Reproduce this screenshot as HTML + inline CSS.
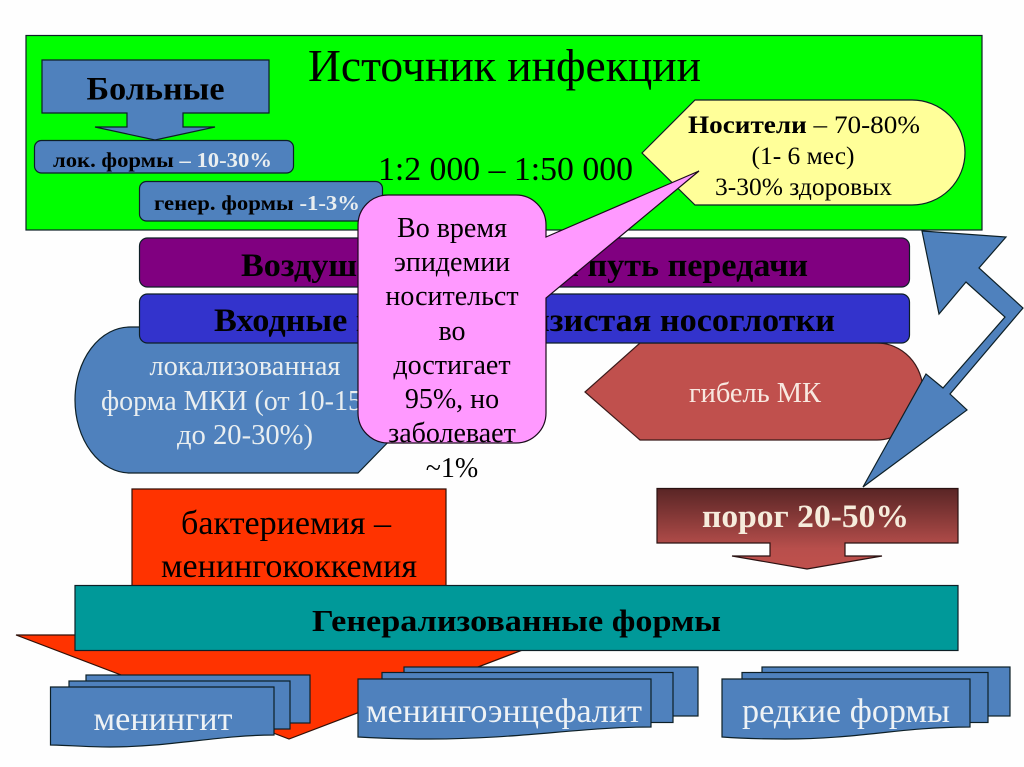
<!DOCTYPE html>
<html>
<head>
<meta charset="utf-8">
<style>
html,body{margin:0;padding:0;background:#fff;width:1024px;height:767px;overflow:hidden}
svg{display:block}
text{font-family:"Liberation Serif","Noto Serif CJK SC",serif}
.b{font-weight:bold}
.s{stroke:#0d1f26;stroke-width:1.2}
</style>
</head>
<body>
<svg width="1024" height="767" viewBox="0 0 1024 767" xmlns="http://www.w3.org/2000/svg">
<defs>
<linearGradient id="g" x1="0" y1="0" x2="0" y2="1">
<stop offset="0" stop-color="#592525"/>
<stop offset="0.75" stop-color="#b84f4c"/>
<stop offset="1" stop-color="#c0504d"/>
</linearGradient>
</defs>
<rect width="1024" height="767" fill="#fefefe"/>

<!-- green source panel -->
<rect x="26" y="35.500" width="956" height="194.500" fill="#00ff00" class="s"/>
<text x="308" y="81" font-size="46" textLength="393" lengthAdjust="spacingAndGlyphs">Источник инфекции</text>
<text x="378" y="180" font-size="34" textLength="255" lengthAdjust="spacingAndGlyphs">1:2 000 – 1:50 000</text>

<path d="M42 60H269V113H183V127H215L155 140L95 127H127V113H42Z" fill="#4f81bd" class="s"/>
<text x="155.500" y="99.500" font-size="33" class="b" text-anchor="middle" textLength="138" lengthAdjust="spacingAndGlyphs">Больные</text>

<rect x="34.500" y="140.500" width="259" height="32.500" rx="7" fill="#4f81bd" class="s"/>
<text x="53" y="167" font-size="21" class="b" textLength="219" lengthAdjust="spacingAndGlyphs">лок. формы <tspan fill="#e9eef0">– 10-30%</tspan></text>

<rect x="139.500" y="181.500" width="243" height="39.500" rx="7" fill="#4f81bd" class="s"/>
<text x="154" y="210" font-size="21" class="b" textLength="206" lengthAdjust="spacingAndGlyphs">генер. формы <tspan fill="#e9eef0">-1-3%</tspan></text>

<!-- carriers -->
<path d="M642 153L695 100H912A53 52.500 0 0 1 912 205H695Z" fill="#ffff99" class="s"/>
<text x="688" y="133" font-size="25" textLength="232" lengthAdjust="spacingAndGlyphs"><tspan class="b">Носители</tspan> – 70-80%</text>
<text x="803" y="164" font-size="25" text-anchor="middle" textLength="103" lengthAdjust="spacingAndGlyphs">(1- 6 мес)</text>
<text x="715" y="195" font-size="25" textLength="177" lengthAdjust="spacingAndGlyphs">3-30% здоровых</text>

<!-- local form shape (below bars) -->
<path d="M130 327H400V430L358 473H130A55 73 0 0 1 130 327Z" fill="#4f81bd" class="s"/>
<text x="245" y="375" font-size="28" fill="#e9eef0" text-anchor="middle" textLength="191" lengthAdjust="spacingAndGlyphs">локализованная</text>
<text x="101" y="410" font-size="28" fill="#e9eef0">форма МКИ (от 10-15%</text>
<text x="245" y="444" font-size="28" fill="#e9eef0" text-anchor="middle" textLength="136" lengthAdjust="spacingAndGlyphs">до 20-30%)</text>

<!-- death shape -->
<path d="M585 392L640 343H877A46 48.500 0 0 1 877 440H640Z" fill="#c0504d" stroke="#3a1a1a" stroke-width="1.200"/>
<text x="755" y="402" font-size="28" fill="#f8e8e0" text-anchor="middle" textLength="132" lengthAdjust="spacingAndGlyphs">гибель МК</text>

<!-- bars -->
<rect x="139.500" y="238" width="770" height="49" rx="8" fill="#800080" class="s"/>
<text x="524.500" y="276" font-size="33" class="b" text-anchor="middle" textLength="567" lengthAdjust="spacingAndGlyphs">Воздушно-капельный путь передачи</text>
<rect x="139.500" y="294" width="770" height="49" rx="8" fill="#3333cc" class="s"/>
<text x="524.500" y="331" font-size="33" class="b" text-anchor="middle" textLength="621" lengthAdjust="spacingAndGlyphs">Входные ворота – слизистая носоглотки</text>

<!-- pink callout -->
<path d="M388 195H516A30 30 0 0 1 546 225V237L699 171L546 298V413A30 30 0 0 1 516 443H388A30 30 0 0 1 358 413V225A30 30 0 0 1 388 195Z" fill="#ff99ff" stroke="#1a0a1a" stroke-width="1.200"/>
<g font-size="28" text-anchor="middle" fill="#000">
<text x="452" y="237">Во время</text>
<text x="452" y="271">эпидемии</text>
<text x="452" y="305">носительст</text>
<text x="452" y="340">во</text>
<text x="452" y="374">достигает</text>
<text x="452" y="408">95%, но</text>
<text x="452" y="442">заболевает</text>
<text x="452" y="477">~1%</text>
</g>

<!-- double arrow -->
<path d="M922 231L1006 237L979 268L1023 308L950 394L967 410L863 487L926 374L943 388L1005 317L966 282L939 314Z" fill="#4f81bd" class="s"/>

<!-- threshold -->
<path d="M657 488.500H958V543H845V556H882L807 569L732 556H770V543H657Z" fill="url(#g)" stroke="#2a1212" stroke-width="1.200"/>
<text x="805.500" y="527" font-size="33" class="b" fill="#f6ecdc" text-anchor="middle" textLength="207" lengthAdjust="spacingAndGlyphs">порог 20-50%</text>

<!-- bacteremia arrow -->
<path d="M132 489H446V635H562L289 739L16 635H132Z" fill="#ff3300" stroke="#301008" stroke-width="1.200"/>
<text x="286" y="534" font-size="34" text-anchor="middle" textLength="210" lengthAdjust="spacingAndGlyphs">бактериемия –</text>
<text x="289" y="577" font-size="34" text-anchor="middle" textLength="256" lengthAdjust="spacingAndGlyphs">менингококкемия</text>

<!-- generalized -->
<rect x="75" y="585.500" width="883" height="65" fill="#009999" class="s"/>
<text x="516.500" y="631" font-size="31" class="b" text-anchor="middle" textLength="409" lengthAdjust="spacingAndGlyphs">Генерализованные формы</text>

<!-- multi-document 1 -->
<g fill="#4f81bd" class="s">
<rect x="86" y="675" width="224" height="48"/>
<rect x="69" y="681" width="221" height="48"/>
<path d="M50.500 687H274V735C220 735 170 747 110 747C85 747 65 745 50.500 745Z"/>
</g>
<text x="163" y="730" font-size="34" fill="#eef2f5" text-anchor="middle" textLength="139" lengthAdjust="spacingAndGlyphs">менингит</text>

<!-- multi-document 2 -->
<g fill="#4f81bd" class="s">
<rect x="404" y="667" width="294" height="49"/>
<rect x="382" y="672.500" width="291" height="50"/>
<path d="M358 679H651V727C580 727 520 739 430 739C400 739 375 738 358 737Z"/>
</g>
<text x="504" y="722" font-size="34" fill="#eef2f5" text-anchor="middle" textLength="276" lengthAdjust="spacingAndGlyphs">менингоэнцефалит</text>

<!-- multi-document 3 -->
<g fill="#4f81bd" class="s">
<rect x="762" y="667" width="248" height="49"/>
<rect x="742" y="672.500" width="246" height="50"/>
<path d="M722 679H970V727C900 727 860 739 785 739C755 739 735 738 722 737Z"/>
</g>
<text x="846" y="722" font-size="34" fill="#eef2f5" text-anchor="middle" textLength="208" lengthAdjust="spacingAndGlyphs">редкие формы</text>
</svg>
</body>
</html>
